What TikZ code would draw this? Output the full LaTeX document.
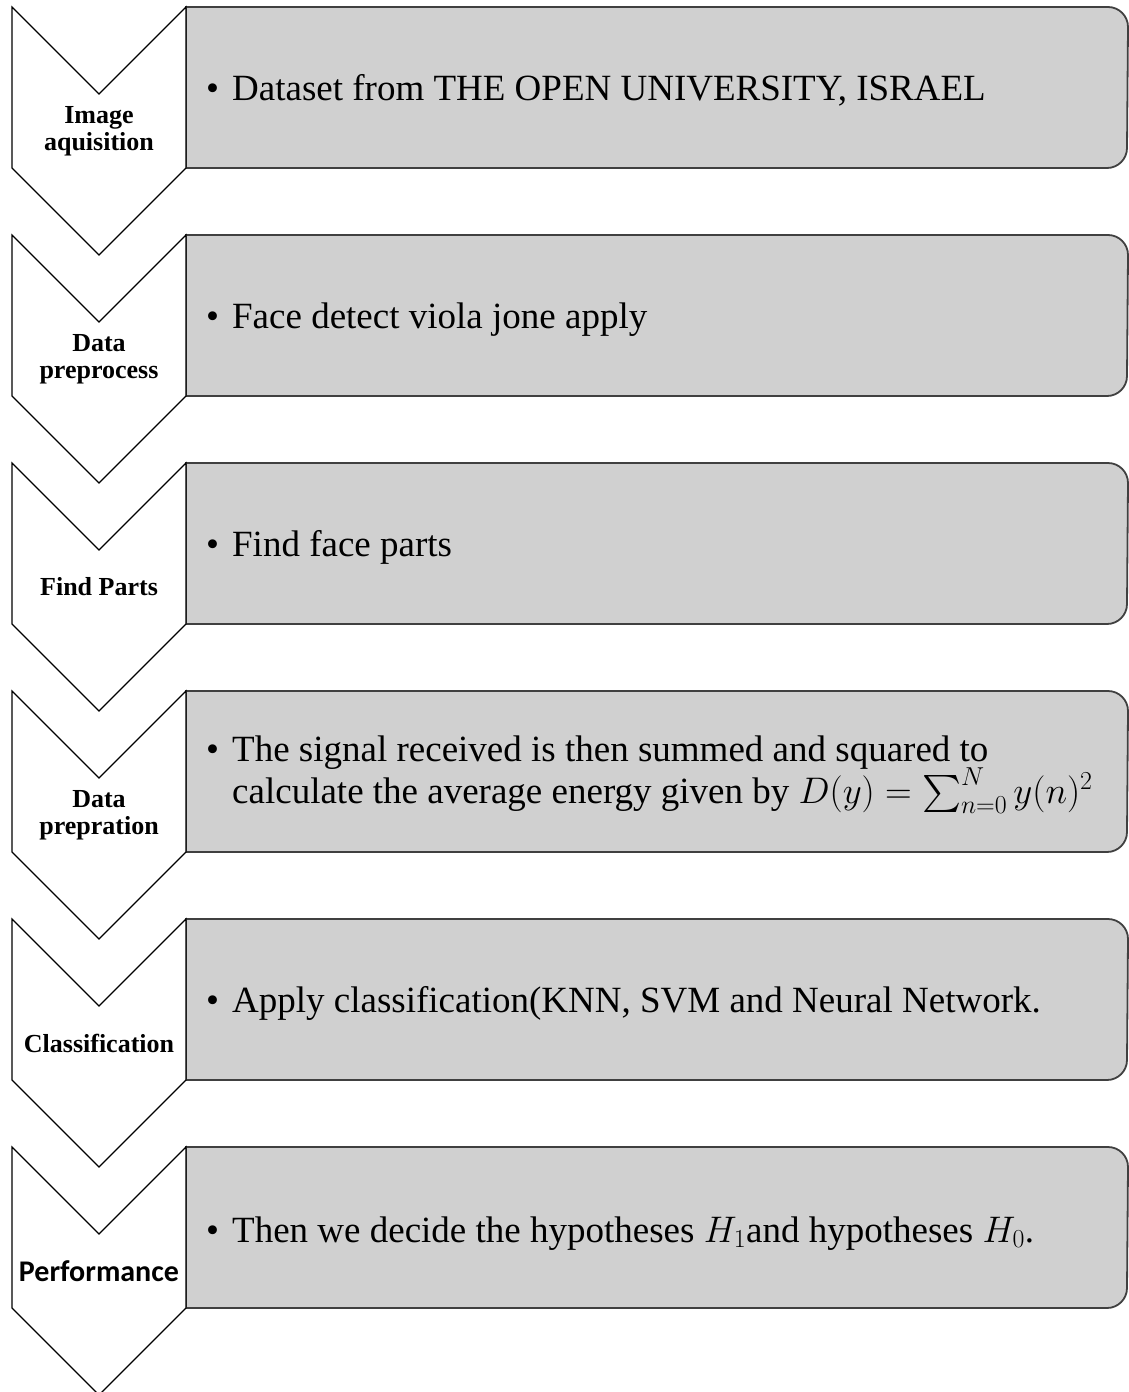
\documentclass[tikz,border=0pt]{standalone}
\usepackage{fix-cm}
\DeclareFontShape{OMX}{cmex}{m}{n}{<-> cmex10}{}
\usepackage{fontspec}
\setmainfont{Liberation Serif}
\newfontfamily\calib{Carlito}
\definecolor{boxgray}{RGB}{208,208,208}
\definecolor{boxline}{RGB}{64,64,64}
\tikzset{
  chev/.style={draw=black, line width=1.2pt, fill=white, line join=miter},
  gbox/.style={draw=boxline, line width=1.8pt, fill=boxgray},
  lbl/.style={font=\fontsize{26}{27}\selectfont\bfseries, align=center, inner sep=0pt},
  btxt/.style={font=\fontsize{37}{39}\selectfont, inner sep=0pt, anchor=base west},
}
\newcommand{\bul}{\makebox[26pt][l]{•}}
\newcommand{\stepshape}[1]{%
  \draw[gbox] (186,#1) -- (1108,#1) arc[start angle=-90, end angle=0, radius=20]
     -- (1127,#1+141) arc[start angle=0, end angle=90, radius=20] -- (186,#1+161) -- cycle;
  \draw[chev] (12,#1) -- (99,#1+87) -- (186,#1) -- (186,#1+161) -- (99,#1+248) -- (12,#1+161) -- cycle;
}
\begin{document}
\begin{tikzpicture}[x=1pt,y=-1pt]
\useasboundingbox (0,0) rectangle (1129,1392);
\stepshape{7}
\stepshape{235}
\stepshape{463}
\stepshape{691}
\stepshape{919}
\stepshape{1147}
% labels
\node[lbl] (l1) at (99,131) {Image\\aquisition};
\node[lbl] (l2) at (99,359) {Data\\preprocess};
\node[lbl] (l3) at (99,587) {Find Parts};
\node[lbl] (l4) at (99,815) {Data\\prepration};
\node[lbl] (l5) at (99,1043) {Classification};
\node[inner sep=0pt, font=\calib\fontsize{30}{32}\selectfont\bfseries] (l6) at (99,1271) {Performance};
% box texts
\node[btxt] (t1) at (206,100) {\bul Dataset from THE OPEN UNIVERSITY, ISRAEL};
\node[btxt] (t2) at (206,328) {\bul Face detect viola jone apply};
\node[btxt] (t3) at (206,556) {\bul Find face parts};
\node[btxt] (t4) at (206,761) {\parbox[t]{915pt}{\fontsize{37}{42}\selectfont\lineskiplimit=-100pt\hangindent=26pt\hangafter=1
  \bul The signal received is then summed and squared to\\
  calculate the average energy given by $D(y) = \sum_{n=0}^{N} y(n)^2$}};
\node[btxt] (t5) at (206,1012) {\bul Apply classification(KNN, SVM and Neural Network.};
\node[btxt] (t6) at (206,1242) {\bul Then we decide the hypotheses $H_1$and hypotheses $H_0$.};
\end{tikzpicture}
\end{document}
